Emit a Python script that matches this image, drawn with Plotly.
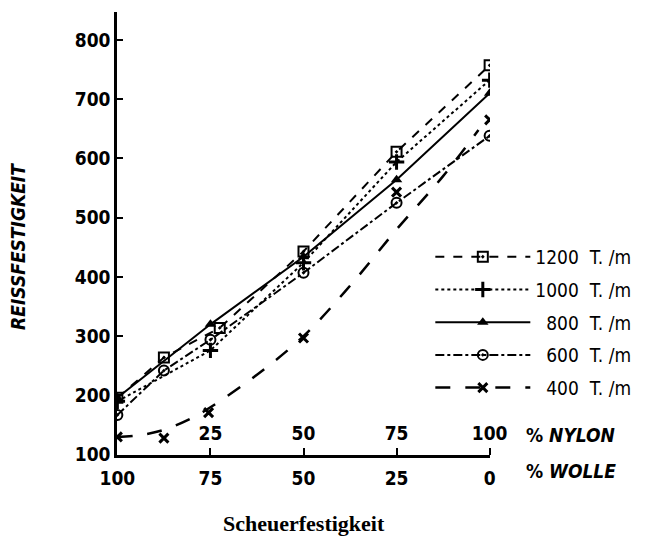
import plotly.graph_objects as go

# 1200 T./m (squares)
x_1200 = [0, 12.5, 27.5, 50, 75, 100]
y_1200 = [196, 264, 314, 443, 611, 757]
# 1000 T./m (plus)
x_1000 = [0, 25, 50, 75, 100]
y_1000 = [190, 276, 424, 594, 732]
# 800 T./m (triangles)
x_800 = [0, 25, 50, 75, 100]
y_800 = [196, 320, 434, 564, 710]
# 600 T./m (circles)
x_600 = [0, 12.5, 25, 50, 75, 100]
y_600 = [167, 242, 294, 407, 525, 638]
# 400 T./m (crosses) measured points
x_400 = [0, 12.5, 24.5, 50, 75, 100]
y_400 = [130, 128, 171, 297, 543, 665]
# 400 T./m smoothed curve
x_400_curve = [0, 6, 12.5, 20, 25, 37.5, 50, 62.5, 75, 87.5, 97]
y_400_curve = [130, 133, 142, 162, 180, 235, 300, 385, 480, 570, 648]

x_ticks = [0, 25, 50, 75, 100]
wolle_labels = ["100", "75", "50", "25", "0"]
nylon_ticks = [25, 50, 75, 100]
nylon_labels = ["25", "50", "75", "100"]
y_ticks = [100, 200, 300, 400, 500, 600, 700, 800]

FONT = "DejaVu Sans Condensed, Liberation Sans Narrow, sans-serif"
FS = "\u2007"  # figure space (digit width) to right-align legend numbers

fig = go.Figure()

fig.add_trace(go.Scatter(x=x_1200, y=y_1200, mode="lines+markers", name="1200  T. /m",
                         line=dict(color="black", width=2, dash="dash"),
                         marker=dict(symbol="square-open-dot", size=10, color="black",
                                     line=dict(width=2, color="black"))))
fig.add_trace(go.Scatter(x=x_1000, y=y_1000, mode="lines+markers", name="1000  T. /m",
                         line=dict(color="black", width=2, dash="dot"),
                         marker=dict(symbol="cross-thin", size=11, color="black",
                                     line=dict(width=3, color="black"))))
fig.add_trace(go.Scatter(x=x_800, y=y_800, mode="lines+markers", name=FS + "800  T. /m",
                         line=dict(color="black", width=2),
                         marker=dict(symbol="triangle-up", size=10, color="black")))
fig.add_trace(go.Scatter(x=x_600, y=y_600, mode="lines+markers", name=FS + "600  T. /m",
                         line=dict(color="black", width=2, dash="dashdot"),
                         marker=dict(symbol="circle-open-dot", size=10, color="black",
                                     line=dict(width=2, color="black"))))
fig.add_trace(go.Scatter(x=x_400_curve, y=y_400_curve, mode="lines", name="400  T. /m",
                         line=dict(color="black", width=2.5, dash="longdash", shape="spline"),
                         legendgroup="400", showlegend=False))
fig.add_trace(go.Scatter(x=x_400, y=y_400, mode="markers", name="400  T. /m",
                         marker=dict(symbol="x-thin", size=9, color="black",
                                     line=dict(width=3, color="black")),
                         legendgroup="400", showlegend=False))
fig.add_trace(go.Scatter(x=[None], y=[None], mode="lines+markers", name=FS + "400  T. /m",
                         line=dict(color="black", width=2.5, dash="longdash"),
                         marker=dict(symbol="x-thin", size=9, color="black",
                                     line=dict(width=3, color="black")),
                         legendgroup="400"))

# invisible trace for the nylon axis
fig.add_trace(go.Scatter(x=[0, 100], y=[None, None], xaxis="x2", showlegend=False, hoverinfo="skip"))

fig.update_layout(
    width=642, height=535,
    margin=dict(l=109, r=160, t=4, b=88),
    paper_bgcolor="white", plot_bgcolor="white",
    font=dict(family=FONT, color="black", size=18),
    showlegend=True,
    legend=dict(x=0.84, y=0.49, xanchor="left", yanchor="top", itemwidth=95,
                font=dict(family=FONT, size=19, color="black"), bgcolor="rgba(0,0,0,0)",
                tracegroupgap=5),
    xaxis=dict(range=[-0.1, 100.1], tickvals=x_ticks, ticktext=wolle_labels,
               showline=True, linecolor="black", linewidth=2.5, showgrid=False, zeroline=False,
               ticks="", ticklabelstandoff=4,
               tickfont=dict(family=FONT, size=19, color="black", weight="bold")),
    xaxis2=dict(range=[-0.1, 100.1], overlaying="x", side="top", anchor="free", position=0,
                tickvals=nylon_ticks, ticktext=nylon_labels,
                ticks="outside", ticklen=7, tickwidth=2, tickcolor="black",
                showline=False, showgrid=False, zeroline=False,
                tickfont=dict(family=FONT, size=19, color="black", weight="bold")),
    yaxis=dict(range=[99.5, 847], tickvals=y_ticks,
               showline=True, linecolor="black", linewidth=2.5, showgrid=False, zeroline=False,
               ticks="inside", ticklen=6, tickwidth=2, tickcolor="black",
               tickfont=dict(family=FONT, size=19, color="black", weight="bold")),
    annotations=[
        dict(text="<b>% <i>NYLON</i></b>", xref="paper", yref="paper", x=1.09, y=0.045,
             xanchor="left", yanchor="middle", showarrow=False, font=dict(family=FONT, size=19)),
        dict(text="<b>% <i>WOLLE</i></b>", xref="paper", yref="paper", x=1.09, y=-0.035,
             xanchor="left", yanchor="middle", showarrow=False, font=dict(family=FONT, size=19)),
        dict(text="<b>Scheuerfestigkeit</b>", xref="paper", yref="paper", x=0.5, y=-0.155,
             xanchor="center", yanchor="middle", showarrow=False,
             font=dict(family="Liberation Serif, DejaVu Serif, serif", size=22)),
        dict(text="<b><i>REISSFESTIGKEIT</i></b>", xref="paper", yref="paper", x=-0.265, y=0.47,
             xanchor="center", yanchor="middle", showarrow=False, textangle=-90,
             font=dict(family=FONT, size=19)),
    ],
)

fig.write_html("out.html")
